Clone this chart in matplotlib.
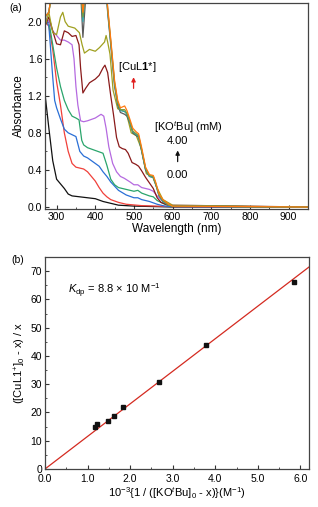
import numpy as np
import matplotlib
matplotlib.use("Agg")
import matplotlib.pyplot as plt
from matplotlib.ticker import MultipleLocator

plt.rcParams['font.family'] = ['Liberation Sans', 'DejaVu Sans']
plt.rcParams['mathtext.fontset'] = 'custom'
plt.rcParams['mathtext.rm'] = 'Liberation Sans'
plt.rcParams['mathtext.it'] = 'Liberation Sans:italic'
plt.rcParams['mathtext.bf'] = 'Liberation Sans:bold'

# ---- (a) UV-vis spectra ----
wl_black = [270, 280, 290, 300, 310, 320, 330, 340, 360, 380, 400, 420, 440, 460, 500, 600, 950]
abs_black = [1.22, 0.85, 0.50, 0.30, 0.25, 0.20, 0.14, 0.12, 0.11, 0.10, 0.09, 0.06, 0.04, 0.02, 0.01, 0.0, 0.0]

wl_red = [270, 280, 290, 300, 310, 320, 330, 340, 350, 360, 370, 380, 390, 400, 410, 420, 430, 440, 460, 480, 520, 600, 950]
abs_red = [2.0, 1.95, 1.7, 1.35, 1.1, 0.8, 0.6, 0.47, 0.43, 0.42, 0.41, 0.38, 0.33, 0.28, 0.21, 0.15, 0.11, 0.08, 0.05, 0.03, 0.015, 0.005, 0.0]

wl_blue = [270, 280, 290, 295, 300, 310, 320, 330, 340, 350, 360, 370, 380, 390, 400, 410, 420, 430, 440, 460, 480, 500, 510, 520, 540, 560, 580, 600, 950]
abs_blue = [2.05, 1.95, 1.4, 1.15, 1.07, 0.95, 0.84, 0.8, 0.78, 0.76, 0.6, 0.55, 0.53, 0.5, 0.47, 0.44, 0.38, 0.33, 0.27, 0.18, 0.13, 0.1, 0.1, 0.08, 0.06, 0.03, 0.01, 0.005, 0.0]

wl_green = [270, 280, 290, 300, 310, 320, 330, 340, 350, 358, 365, 370, 380, 400, 420, 430, 440, 450, 460, 480, 500, 510, 520, 540, 550, 560, 580, 600, 950]
abs_green = [2.05, 2.0, 1.75, 1.5, 1.3, 1.15, 1.05, 0.98, 0.96, 0.94, 0.72, 0.67, 0.64, 0.61, 0.58, 0.45, 0.3, 0.24, 0.21, 0.19, 0.17, 0.18, 0.15, 0.12, 0.11, 0.07, 0.03, 0.01, 0.0]

wl_purple = [270, 280, 290, 300, 310, 320, 330, 340, 345, 350, 355, 362, 370, 380, 400, 415, 422, 428, 435, 445, 455, 465, 475, 490, 500, 510, 520, 540, 550, 560, 575, 590, 600, 950]
abs_purple = [2.05, 2.0, 1.9, 1.85, 1.8, 1.8, 1.78, 1.75, 1.6, 1.3, 1.1, 0.93, 0.92, 0.93, 0.96, 1.0, 0.98, 0.85, 0.65, 0.47, 0.38, 0.33, 0.31, 0.27, 0.24, 0.24, 0.21, 0.19, 0.17, 0.12, 0.06, 0.03, 0.02, 0.0]

wl_brown = [270, 280, 290, 300, 310, 320, 330, 340, 350, 358, 362, 368, 375, 385, 400, 410, 420, 425, 432, 440, 447, 455, 462, 470, 478, 485, 495, 505, 512, 520, 530, 540, 550, 560, 570, 585, 600, 950]
abs_brown = [1.95, 2.05, 1.9, 1.76, 1.75, 1.9, 1.88, 1.84, 1.85, 1.75, 1.5, 1.23, 1.28, 1.34, 1.38, 1.42, 1.5, 1.53, 1.45, 1.2, 1.0, 0.75, 0.65, 0.63, 0.62, 0.58, 0.48, 0.46, 0.44, 0.39, 0.32, 0.26, 0.2, 0.1, 0.05, 0.025, 0.015, 0.0]

wl_olive = [270, 280, 290, 300, 310, 316, 322, 330, 347, 359, 366, 372, 385, 400, 411, 424, 428, 432, 438, 446, 458, 471, 480, 493, 506, 519, 532, 549, 558, 575, 600, 950]
abs_olive = [1.95, 2.1, 1.88, 1.86, 2.05, 2.1, 2.0, 1.95, 1.93, 1.88, 1.75, 1.66, 1.70, 1.68, 1.72, 1.78, 1.85, 1.78, 1.65, 1.26, 1.06, 1.04, 1.02, 0.8, 0.77, 0.63, 0.36, 0.32, 0.22, 0.08, 0.02, 0.0]

wl_top = [270, 280, 290, 300, 360, 368, 376, 383, 425, 432, 440, 450, 458, 465, 476, 482, 490, 497, 506, 512, 520, 530, 540, 550, 556, 565, 575, 590, 600, 950]
abs_gray = [2.05, 2.1, 2.4, 2.6, 2.5, 1.83, 2.3, 2.5, 2.5, 2.1, 1.75, 1.3, 1.1, 1.02, 1.0, 0.98, 0.9, 0.8, 0.77, 0.75, 0.6, 0.4, 0.33, 0.32, 0.25, 0.12, 0.06, 0.02, 0.01, 0.0]
abs_teal = [2.05, 2.1, 2.4, 2.6, 2.5, 2.0, 2.4, 2.5, 2.5, 2.12, 1.77, 1.32, 1.12, 1.04, 1.03, 1.0, 0.91, 0.81, 0.78, 0.76, 0.61, 0.41, 0.33, 0.32, 0.25, 0.12, 0.06, 0.02, 0.01, 0.0]
abs_khaki = [2.05, 2.1, 2.4, 2.6, 2.5, 2.05, 2.4, 2.5, 2.5, 2.14, 1.79, 1.34, 1.13, 1.05, 1.05, 1.01, 0.92, 0.82, 0.79, 0.77, 0.62, 0.42, 0.34, 0.33, 0.26, 0.13, 0.07, 0.02, 0.01, 0.0]
abs_orange = [2.05, 2.1, 2.4, 2.6, 2.5, 2.1, 2.4, 2.5, 2.5, 2.16, 1.81, 1.36, 1.15, 1.07, 1.09, 1.04, 0.94, 0.85, 0.81, 0.79, 0.64, 0.43, 0.35, 0.34, 0.27, 0.14, 0.08, 0.03, 0.01, 0.0]

spectra = [
    (wl_black, abs_black, '#111111'),
    (wl_red, abs_red, '#f0403a'),
    (wl_blue, abs_blue, '#2a6fd6'),
    (wl_green, abs_green, '#2aa56c'),
    (wl_purple, abs_purple, '#b56ae0'),
    (wl_brown, abs_brown, '#8a1a1a'),
    (wl_olive, abs_olive, '#a0a020'),
    (wl_top, abs_gray, '#5a5a5a'),
    (wl_top, abs_teal, '#2aa0a8'),
    (wl_top, abs_khaki, '#7a9a3a'),
    (wl_top, abs_orange, '#ff7a10'),
]

# ---- (b) linear fit data ----
inv_base = [1.18, 1.23, 1.47, 1.61, 1.84, 2.68, 3.79, 5.84]
ratio = [14.9, 15.8, 17.1, 18.8, 22.0, 30.9, 43.9, 66.2]

fig = plt.figure(figsize=(3.18, 5.07), dpi=100)
axa = fig.add_axes([0.1415, 0.588, 0.827, 0.406])
axb = fig.add_axes([0.1415, 0.075, 0.830, 0.418])

for wl, ab, c in spectra:
    axa.plot(wl, ab, color=c, lw=0.9)

axa.set_xlim(270, 950)
axa.set_ylim(-0.02, 2.2)
axa.xaxis.set_major_locator(MultipleLocator(100))
axa.xaxis.set_minor_locator(MultipleLocator(50))
axa.yaxis.set_major_locator(MultipleLocator(0.4))
axa.yaxis.set_minor_locator(MultipleLocator(0.2))
axa.yaxis.set_major_formatter(plt.FormatStrFormatter('%.1f'))
axa.set_xlabel('Wavelength (nm)', fontsize=8.5, labelpad=1)
axa.set_ylabel('Absorbance', fontsize=8.5, labelpad=2)

# annotations (positions in data coords)
axa.text(509, 1.51, r'[CuL$\mathbf{1}$*]', fontsize=8, ha='center', va='center')
axa.annotate('', xy=(499, 1.43), xytext=(499, 1.25),
             arrowprops=dict(arrowstyle='-|>', color='#e02020', lw=0.9,
                             mutation_scale=6))
axa.text(640, 0.86, r'[KO$^t$Bu] (mM)', fontsize=8, ha='center', va='center')
axa.text(613, 0.71, '4.00', fontsize=8, ha='center', va='center')
axa.annotate('', xy=(613, 0.64), xytext=(613, 0.46),
             arrowprops=dict(arrowstyle='-|>', color='#111111', lw=0.9,
                             mutation_scale=6))
axa.text(613, 0.35, '0.00', fontsize=8, ha='center', va='center')

x_fit = np.array([0.0, 6.2])
slope = np.sum(np.array(inv_base) * np.array(ratio)) / np.sum(np.array(inv_base) ** 2)
axb.plot(x_fit, slope * x_fit, color='#d42a20', lw=0.9)
axb.plot(inv_base, ratio, 's', color='#111111', ms=3.5)
axb.set_xlim(0, 6.2)
axb.set_ylim(0, 75)
axb.xaxis.set_major_locator(MultipleLocator(1.0))
axb.xaxis.set_minor_locator(MultipleLocator(0.5))
axb.xaxis.set_major_formatter(plt.FormatStrFormatter('%.1f'))
axb.yaxis.set_major_locator(MultipleLocator(10))
axb.yaxis.set_minor_locator(MultipleLocator(5))
axb.set_xlabel(r'10$^{-3}${1 / ([KO$^t$Bu]$_0$ - x)}(M$^{-1}$)', fontsize=8, labelpad=1)
axb.set_ylabel(r'([CuL1$^{+}$]$_0$ - x) / x', fontsize=8, labelpad=2)
axb.text(0.55, 63, r'$K_{\mathrm{dp}}$ = 8.8 × 10 M$^{-1}$', fontsize=8, va='center')

for ax in (axa, axb):
    ax.tick_params(which='both', direction='in', labelsize=7.5, pad=2, color='#333333')
    ax.tick_params(which='major', length=3)
    ax.tick_params(which='minor', length=1.5)
    for s in ax.spines.values():
        s.set_color('#444444')
        s.set_linewidth(0.9)
axb.tick_params(axis='x', pad=3.5)

fig.text(0.03, 0.985, '(a)', fontsize=7.5, va='center')
fig.text(0.035, 0.487, '(b)', fontsize=7.5, va='center')

fig.savefig('out.png', dpi=100)
